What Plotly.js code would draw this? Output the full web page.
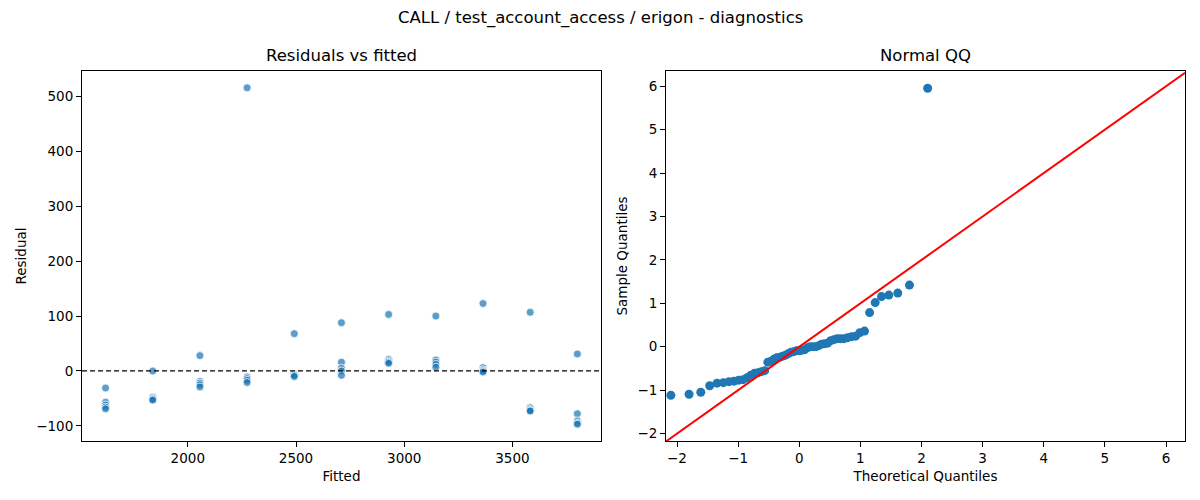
<!DOCTYPE html>
<html>
<head>
<meta charset="utf-8">
<script src="https://cdn.plot.ly/plotly-3.0.1.min.js"></script>
<style>html,body{margin:0;padding:0;background:#fff}#chart{width:1200px;height:500px}</style>
</head>
<body>
<div id="chart"></div>
<script>
// Residuals vs fitted: 11 fitted levels, 5 observations each
const fitted = [
  1620,1620,1620,1620,1620,
  1838,1838,1838,1838,1838,
  2056,2056,2056,2056,2056,
  2274,2274,2274,2274,2274,
  2492,2492,2492,2492,2492,
  2710,2710,2710,2710,2710,
  2928,2928,2928,2928,2928,
  3146,3146,3146,3146,3146,
  3364,3364,3364,3364,3364,
  3582,3582,3582,3582,3582,
  3800,3800,3800,3800,3800
];
const residual = [
  -31,-57,-62,-66,-69,
  0,-48,-50,-52,-53,
  28,-19,-22,-25,-29,
  516,-11,-14,-17,-21,
  68,-6,-7,-8,-10,
  88,16,5,0,-8,
  103,21,18,16,14,
  100,20,16,12,7,
  123,6,2,0,-2,
  107,-67,-70,-72,-73,
  31,-78,-91,-95,-97
];
const leftXTicks = [2000,2500,3000,3500];
const leftYTicks = [-100,0,100,200,300,400,500];
const qqTicks = [-2,-1,0,1,2,3,4,5,6];
const qqLineEnds = [-2.18, 6.31];

// Normal QQ: standardized sorted residuals vs normal quantiles at i/(n+1)
function normInv(p){
  const a=[-39.69683028665376,220.9460984245205,-275.9285104469687,138.3577518672690,-30.66479806614716,2.506628277459239];
  const b=[-54.47609879822406,161.5858368580409,-155.6989798598866,66.80131188771972,-13.28068155288572];
  const c=[-0.007784894002430293,-0.3223964580411365,-2.400758277161838,-2.549732539343734,4.374664141464968,2.938163982698783];
  const d=[0.007784695709041462,0.3224671290700398,2.445134137142996,3.754408661907416];
  const pl=0.02425, ph=1-pl; let q,r;
  if(p<pl){q=Math.sqrt(-2*Math.log(p));return (((((c[0]*q+c[1])*q+c[2])*q+c[3])*q+c[4])*q+c[5])/((((d[0]*q+d[1])*q+d[2])*q+d[3])*q+1);}
  if(p<=ph){q=p-0.5;r=q*q;return (((((a[0]*r+a[1])*r+a[2])*r+a[3])*r+a[4])*r+a[5])*q/(((((b[0]*r+b[1])*r+b[2])*r+b[3])*r+b[4])*r+1);}
  q=Math.sqrt(-2*Math.log(1-p));return -(((((c[0]*q+c[1])*q+c[2])*q+c[3])*q+c[4])*q+c[5])/((((d[0]*q+d[1])*q+d[2])*q+d[3])*q+1);
}
const n = residual.length;
const mean = residual.reduce((s,v)=>s+v,0)/n;
const sd = Math.sqrt(residual.reduce((s,v)=>s+(v-mean)*(v-mean),0)/n);
const sampleQ = residual.slice().sort((x,y)=>x-y).map(v=>(v-mean)/sd);
const theoQ = sampleQ.map((_,i)=>normInv((i+1)/(n+1)));

const FONT = 'DejaVu Sans, sans-serif';
const axBase = {
  showline:true, linecolor:'#000', linewidth:1, mirror:true,
  ticks:'outside', ticklen:5, tickwidth:1, tickcolor:'#000',
  showgrid:false, zeroline:false,
  tickfont:{family:FONT,size:13.5,color:'#000'}
};

const traces = [
  {type:'scatter', mode:'markers', x:fitted, y:residual, xaxis:'x', yaxis:'y',
   marker:{color:'rgba(31,119,180,0.72)', size:8, line:{color:'#fff', width:0.8}}, showlegend:false},
  {type:'scatter', mode:'markers', x:theoQ, y:sampleQ, xaxis:'x2', yaxis:'y2',
   marker:{color:'#1f77b4', size:9}, showlegend:false},
  {type:'scatter', mode:'lines', x:qqLineEnds, y:qqLineEnds, xaxis:'x2', yaxis:'y2',
   line:{color:'#ff0000', width:2}, showlegend:false}
];

const layout = {
  width:1200, height:500,
  margin:{l:0,r:0,t:0,b:0},
  paper_bgcolor:'#fff', plot_bgcolor:'#fff',
  font:{family:FONT, color:'#000'},
  xaxis:Object.assign({}, axBase, {domain:[0.0683,0.5008], range:[1511,3909], tickvals:leftXTicks,
    title:{text:'Fitted', font:{family:FONT,size:13.5,color:'#000'}, standoff:6}}),
  yaxis:Object.assign({}, axBase, {domain:[0.118,0.858], range:[-127.6,546.6], tickvals:leftYTicks,
    title:{text:'Residual', font:{family:FONT,size:13.5,color:'#000'}, standoff:6}}),
  xaxis2:Object.assign({}, axBase, {domain:[0.555,0.9875], range:[-2.18,6.31], tickvals:qqTicks, anchor:'y2',
    title:{text:'Theoretical Quantiles', font:{family:FONT,size:13.5,color:'#000'}, standoff:6}}),
  yaxis2:Object.assign({}, axBase, {domain:[0.118,0.858], range:[-2.17,6.35], tickvals:qqTicks, anchor:'x2',
    title:{text:'Sample Quantiles', font:{family:FONT,size:13.5,color:'#000'}, standoff:6}}),
  shapes:[
    {type:'line', xref:'x domain', yref:'y', x0:0, x1:1, y0:0, y1:0,
     line:{color:'#000', width:1.3, dash:'5px,3px'}}
  ],
  annotations:[
    {text:'CALL / test_account_access / erigon - diagnostics', xref:'paper', yref:'paper', x:0.5, y:1-18/500,
     xanchor:'center', yanchor:'middle', showarrow:false, font:{family:FONT,size:16.5,color:'#000'}},
    {text:'Residuals vs fitted', xref:'paper', yref:'paper', x:(82+601)/2/1200, y:1-56/500,
     xanchor:'center', yanchor:'middle', showarrow:false, font:{family:FONT,size:16.5,color:'#000'}},
    {text:'Normal QQ', xref:'paper', yref:'paper', x:(666+1185)/2/1200, y:1-56/500,
     xanchor:'center', yanchor:'middle', showarrow:false, font:{family:FONT,size:16.5,color:'#000'}}
  ]
};

Plotly.newPlot('chart', traces, layout, {displayModeBar:false, staticPlot:true});
</script>
</body>
</html>
